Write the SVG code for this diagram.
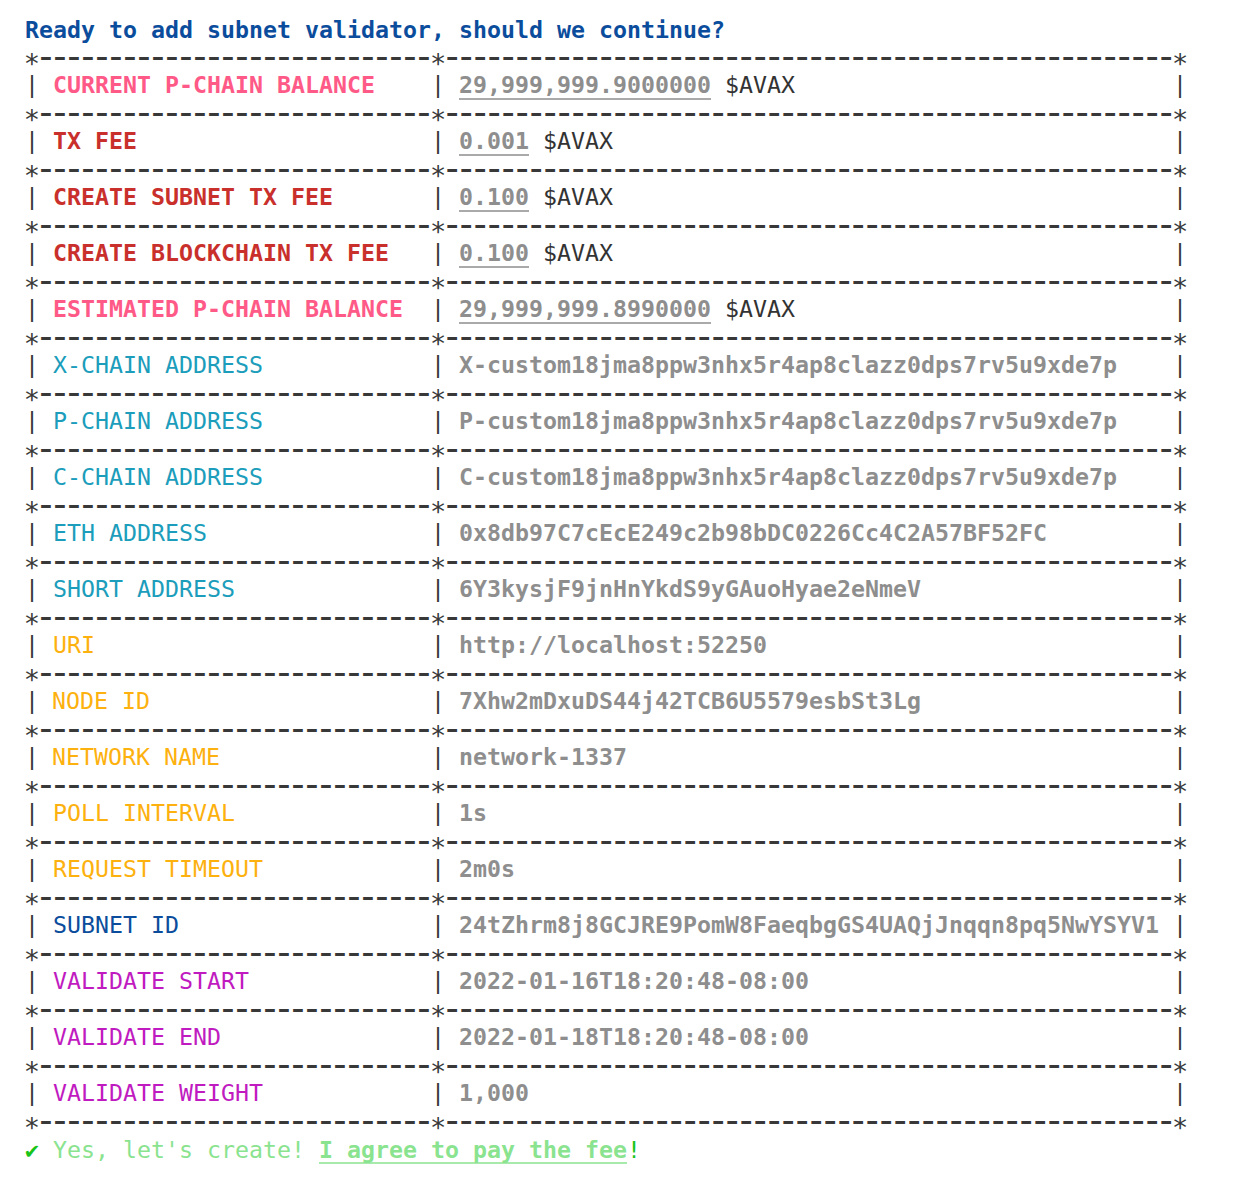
<svg xmlns="http://www.w3.org/2000/svg" width="1250" height="1186" viewBox="0 0 1250 1186">
<style>
text{font-family:"DejaVu Sans Mono","Liberation Mono",monospace;font-size:23.25px;white-space:pre}
.bd{fill:#383838}
.sp{font-size:27px;letter-spacing:-2.25px}
.dh{font-size:38px;letter-spacing:-8.876px}
.hd{fill:#0b4d9c;font-weight:bold}
.pk{fill:#ff5a87;font-weight:bold}
.rd{fill:#c9302c;font-weight:bold}
.tl{fill:#1b9dbb}
.or{fill:#fdb10f}
.bl{fill:#0b4d9c}
.mg{fill:#c01bc0}
.vl{fill:#8e8e8e;font-weight:bold}
.av{fill:#333333;font-weight:normal}
.ul{stroke:#8e8e8e;stroke-width:1.5}
.ok{fill:#19c419}
.lg{fill:#8ae38f}
.lgb{fill:#8ae38f;font-weight:bold}
.ulg{stroke:#8ae38f;stroke-width:1.5}
</style>
<rect width="1250" height="1186" fill="#ffffff"/>
<g id="header"><text class="hd" x="25" y="38">Ready to add subnet validator, should we continue?</text></g>
<g id="connectors">
<text class="bd sp" x="23.87" y="73">*<tspan class="dh" dx="-3.31" dy="-3.8">----------------------------</tspan><tspan dx="3.31" dy="3.8">*</tspan><tspan class="dh" dx="-3.31" dy="-3.8">----------------------------------------------------</tspan><tspan dx="3.31" dy="3.8">*</tspan></text>
<text class="bd sp" x="23.87" y="129">*<tspan class="dh" dx="-3.31" dy="-3.8">----------------------------</tspan><tspan dx="3.31" dy="3.8">*</tspan><tspan class="dh" dx="-3.31" dy="-3.8">----------------------------------------------------</tspan><tspan dx="3.31" dy="3.8">*</tspan></text>
<text class="bd sp" x="23.87" y="185">*<tspan class="dh" dx="-3.31" dy="-3.8">----------------------------</tspan><tspan dx="3.31" dy="3.8">*</tspan><tspan class="dh" dx="-3.31" dy="-3.8">----------------------------------------------------</tspan><tspan dx="3.31" dy="3.8">*</tspan></text>
<text class="bd sp" x="23.87" y="241">*<tspan class="dh" dx="-3.31" dy="-3.8">----------------------------</tspan><tspan dx="3.31" dy="3.8">*</tspan><tspan class="dh" dx="-3.31" dy="-3.8">----------------------------------------------------</tspan><tspan dx="3.31" dy="3.8">*</tspan></text>
<text class="bd sp" x="23.87" y="297">*<tspan class="dh" dx="-3.31" dy="-3.8">----------------------------</tspan><tspan dx="3.31" dy="3.8">*</tspan><tspan class="dh" dx="-3.31" dy="-3.8">----------------------------------------------------</tspan><tspan dx="3.31" dy="3.8">*</tspan></text>
<text class="bd sp" x="23.87" y="353">*<tspan class="dh" dx="-3.31" dy="-3.8">----------------------------</tspan><tspan dx="3.31" dy="3.8">*</tspan><tspan class="dh" dx="-3.31" dy="-3.8">----------------------------------------------------</tspan><tspan dx="3.31" dy="3.8">*</tspan></text>
<text class="bd sp" x="23.87" y="409">*<tspan class="dh" dx="-3.31" dy="-3.8">----------------------------</tspan><tspan dx="3.31" dy="3.8">*</tspan><tspan class="dh" dx="-3.31" dy="-3.8">----------------------------------------------------</tspan><tspan dx="3.31" dy="3.8">*</tspan></text>
<text class="bd sp" x="23.87" y="465">*<tspan class="dh" dx="-3.31" dy="-3.8">----------------------------</tspan><tspan dx="3.31" dy="3.8">*</tspan><tspan class="dh" dx="-3.31" dy="-3.8">----------------------------------------------------</tspan><tspan dx="3.31" dy="3.8">*</tspan></text>
<text class="bd sp" x="23.87" y="521">*<tspan class="dh" dx="-3.31" dy="-3.8">----------------------------</tspan><tspan dx="3.31" dy="3.8">*</tspan><tspan class="dh" dx="-3.31" dy="-3.8">----------------------------------------------------</tspan><tspan dx="3.31" dy="3.8">*</tspan></text>
<text class="bd sp" x="23.87" y="577">*<tspan class="dh" dx="-3.31" dy="-3.8">----------------------------</tspan><tspan dx="3.31" dy="3.8">*</tspan><tspan class="dh" dx="-3.31" dy="-3.8">----------------------------------------------------</tspan><tspan dx="3.31" dy="3.8">*</tspan></text>
<text class="bd sp" x="23.87" y="633">*<tspan class="dh" dx="-3.31" dy="-3.8">----------------------------</tspan><tspan dx="3.31" dy="3.8">*</tspan><tspan class="dh" dx="-3.31" dy="-3.8">----------------------------------------------------</tspan><tspan dx="3.31" dy="3.8">*</tspan></text>
<text class="bd sp" x="23.87" y="689">*<tspan class="dh" dx="-3.31" dy="-3.8">----------------------------</tspan><tspan dx="3.31" dy="3.8">*</tspan><tspan class="dh" dx="-3.31" dy="-3.8">----------------------------------------------------</tspan><tspan dx="3.31" dy="3.8">*</tspan></text>
<text class="bd sp" x="23.87" y="745">*<tspan class="dh" dx="-3.31" dy="-3.8">----------------------------</tspan><tspan dx="3.31" dy="3.8">*</tspan><tspan class="dh" dx="-3.31" dy="-3.8">----------------------------------------------------</tspan><tspan dx="3.31" dy="3.8">*</tspan></text>
<text class="bd sp" x="23.87" y="801">*<tspan class="dh" dx="-3.31" dy="-3.8">----------------------------</tspan><tspan dx="3.31" dy="3.8">*</tspan><tspan class="dh" dx="-3.31" dy="-3.8">----------------------------------------------------</tspan><tspan dx="3.31" dy="3.8">*</tspan></text>
<text class="bd sp" x="23.87" y="857">*<tspan class="dh" dx="-3.31" dy="-3.8">----------------------------</tspan><tspan dx="3.31" dy="3.8">*</tspan><tspan class="dh" dx="-3.31" dy="-3.8">----------------------------------------------------</tspan><tspan dx="3.31" dy="3.8">*</tspan></text>
<text class="bd sp" x="23.87" y="913">*<tspan class="dh" dx="-3.31" dy="-3.8">----------------------------</tspan><tspan dx="3.31" dy="3.8">*</tspan><tspan class="dh" dx="-3.31" dy="-3.8">----------------------------------------------------</tspan><tspan dx="3.31" dy="3.8">*</tspan></text>
<text class="bd sp" x="23.87" y="969">*<tspan class="dh" dx="-3.31" dy="-3.8">----------------------------</tspan><tspan dx="3.31" dy="3.8">*</tspan><tspan class="dh" dx="-3.31" dy="-3.8">----------------------------------------------------</tspan><tspan dx="3.31" dy="3.8">*</tspan></text>
<text class="bd sp" x="23.87" y="1025">*<tspan class="dh" dx="-3.31" dy="-3.8">----------------------------</tspan><tspan dx="3.31" dy="3.8">*</tspan><tspan class="dh" dx="-3.31" dy="-3.8">----------------------------------------------------</tspan><tspan dx="3.31" dy="3.8">*</tspan></text>
<text class="bd sp" x="23.87" y="1081">*<tspan class="dh" dx="-3.31" dy="-3.8">----------------------------</tspan><tspan dx="3.31" dy="3.8">*</tspan><tspan class="dh" dx="-3.31" dy="-3.8">----------------------------------------------------</tspan><tspan dx="3.31" dy="3.8">*</tspan></text>
<text class="bd sp" x="23.87" y="1137">*<tspan class="dh" dx="-3.31" dy="-3.8">----------------------------</tspan><tspan dx="3.31" dy="3.8">*</tspan><tspan class="dh" dx="-3.31" dy="-3.8">----------------------------------------------------</tspan><tspan dx="3.31" dy="3.8">*</tspan></text>
</g>
<g id="row-current-balance">
<text class="bd" x="25" y="93">|</text><text class="bd" x="431" y="93">|</text><text class="bd" x="1173" y="93">|</text>
<text class="pk" x="53" y="93">CURRENT P-CHAIN BALANCE</text>
<text class="vl" x="459" y="93">29,999,999.9000000<tspan class="av"> $AVAX</tspan></text>
<line class="ul" x1="459" y1="99" x2="711" y2="99"/>
</g>
<g id="row-tx-fee">
<text class="bd" x="25" y="149">|</text><text class="bd" x="431" y="149">|</text><text class="bd" x="1173" y="149">|</text>
<text class="rd" x="53" y="149">TX FEE</text>
<text class="vl" x="459" y="149">0.001<tspan class="av"> $AVAX</tspan></text>
<line class="ul" x1="459" y1="155" x2="529" y2="155"/>
</g>
<g id="row-create-subnet-fee">
<text class="bd" x="25" y="205">|</text><text class="bd" x="431" y="205">|</text><text class="bd" x="1173" y="205">|</text>
<text class="rd" x="53" y="205">CREATE SUBNET TX FEE</text>
<text class="vl" x="459" y="205">0.100<tspan class="av"> $AVAX</tspan></text>
<line class="ul" x1="459" y1="211" x2="529" y2="211"/>
</g>
<g id="row-create-blockchain-fee">
<text class="bd" x="25" y="261">|</text><text class="bd" x="431" y="261">|</text><text class="bd" x="1173" y="261">|</text>
<text class="rd" x="53" y="261">CREATE BLOCKCHAIN TX FEE</text>
<text class="vl" x="459" y="261">0.100<tspan class="av"> $AVAX</tspan></text>
<line class="ul" x1="459" y1="267" x2="529" y2="267"/>
</g>
<g id="row-estimated-balance">
<text class="bd" x="25" y="317">|</text><text class="bd" x="431" y="317">|</text><text class="bd" x="1173" y="317">|</text>
<text class="pk" x="53" y="317">ESTIMATED P-CHAIN BALANCE</text>
<text class="vl" x="459" y="317">29,999,999.8990000<tspan class="av"> $AVAX</tspan></text>
<line class="ul" x1="459" y1="323" x2="711" y2="323"/>
</g>
<g id="row-x-chain">
<text class="bd" x="25" y="373">|</text><text class="bd" x="431" y="373">|</text><text class="bd" x="1173" y="373">|</text>
<text class="tl" x="53" y="373">X-CHAIN ADDRESS</text>
<text class="vl" x="459" y="373">X-custom18jma8ppw3nhx5r4ap8clazz0dps7rv5u9xde7p</text>
</g>
<g id="row-p-chain">
<text class="bd" x="25" y="429">|</text><text class="bd" x="431" y="429">|</text><text class="bd" x="1173" y="429">|</text>
<text class="tl" x="53" y="429">P-CHAIN ADDRESS</text>
<text class="vl" x="459" y="429">P-custom18jma8ppw3nhx5r4ap8clazz0dps7rv5u9xde7p</text>
</g>
<g id="row-c-chain">
<text class="bd" x="25" y="485">|</text><text class="bd" x="431" y="485">|</text><text class="bd" x="1173" y="485">|</text>
<text class="tl" x="53" y="485">C-CHAIN ADDRESS</text>
<text class="vl" x="459" y="485">C-custom18jma8ppw3nhx5r4ap8clazz0dps7rv5u9xde7p</text>
</g>
<g id="row-eth">
<text class="bd" x="25" y="541">|</text><text class="bd" x="431" y="541">|</text><text class="bd" x="1173" y="541">|</text>
<text class="tl" x="53" y="541">ETH ADDRESS</text>
<text class="vl" x="459" y="541">0x8db97C7cEcE249c2b98bDC0226Cc4C2A57BF52FC</text>
</g>
<g id="row-short">
<text class="bd" x="25" y="597">|</text><text class="bd" x="431" y="597">|</text><text class="bd" x="1173" y="597">|</text>
<text class="tl" x="53" y="597">SHORT ADDRESS</text>
<text class="vl" x="459" y="597">6Y3kysjF9jnHnYkdS9yGAuoHyae2eNmeV</text>
</g>
<g id="row-uri">
<text class="bd" x="25" y="653">|</text><text class="bd" x="431" y="653">|</text><text class="bd" x="1173" y="653">|</text>
<text class="or" x="53" y="653">URI</text>
<text class="vl" x="459" y="653">http://localhost:52250</text>
</g>
<g id="row-node-id">
<text class="bd" x="25" y="709">|</text><text class="bd" x="431" y="709">|</text><text class="bd" x="1173" y="709">|</text>
<text class="or" x="52" y="709">NODE ID</text>
<text class="vl" x="459" y="709">7Xhw2mDxuDS44j42TCB6U5579esbSt3Lg</text>
</g>
<g id="row-network">
<text class="bd" x="25" y="765">|</text><text class="bd" x="431" y="765">|</text><text class="bd" x="1173" y="765">|</text>
<text class="or" x="52" y="765">NETWORK NAME</text>
<text class="vl" x="459" y="765">network-1337</text>
</g>
<g id="row-poll">
<text class="bd" x="25" y="821">|</text><text class="bd" x="431" y="821">|</text><text class="bd" x="1173" y="821">|</text>
<text class="or" x="53" y="821">POLL INTERVAL</text>
<text class="vl" x="459" y="821">1s</text>
</g>
<g id="row-timeout">
<text class="bd" x="25" y="877">|</text><text class="bd" x="431" y="877">|</text><text class="bd" x="1173" y="877">|</text>
<text class="or" x="53" y="877">REQUEST TIMEOUT</text>
<text class="vl" x="459" y="877">2m0s</text>
</g>
<g id="row-subnet-id">
<text class="bd" x="25" y="933">|</text><text class="bd" x="431" y="933">|</text><text class="bd" x="1173" y="933">|</text>
<text class="bl" x="53" y="933">SUBNET ID</text>
<text class="vl" x="459" y="933">24tZhrm8j8GCJRE9PomW8FaeqbgGS4UAQjJnqqn8pq5NwYSYV1</text>
</g>
<g id="row-validate-start">
<text class="bd" x="25" y="989">|</text><text class="bd" x="431" y="989">|</text><text class="bd" x="1173" y="989">|</text>
<text class="mg" x="53" y="989">VALIDATE START</text>
<text class="vl" x="459" y="989">2022-01-16T18:20:48-08:00</text>
</g>
<g id="row-validate-end">
<text class="bd" x="25" y="1045">|</text><text class="bd" x="431" y="1045">|</text><text class="bd" x="1173" y="1045">|</text>
<text class="mg" x="53" y="1045">VALIDATE END</text>
<text class="vl" x="459" y="1045">2022-01-18T18:20:48-08:00</text>
</g>
<g id="row-validate-weight">
<text class="bd" x="25" y="1101">|</text><text class="bd" x="431" y="1101">|</text><text class="bd" x="1173" y="1101">|</text>
<text class="mg" x="53" y="1101">VALIDATE WEIGHT</text>
<text class="vl" x="459" y="1101">1,000</text>
</g>
<g id="confirm">
<text x="25" y="1158"><tspan class="ok">✔</tspan><tspan class="lg"> Yes, let's create! </tspan><tspan class="lgb">I agree to pay the fee</tspan><tspan class="ok">!</tspan></text>
<line class="ulg" x1="319" y1="1163" x2="627" y2="1163"/>
</g>
</svg>
